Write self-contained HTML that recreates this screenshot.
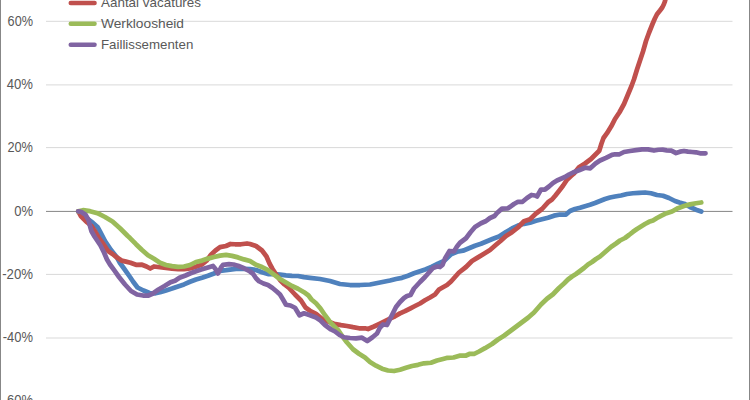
<!DOCTYPE html>
<html><head><meta charset="utf-8"><style>
html,body{margin:0;padding:0;background:#fff;width:750px;height:400px;overflow:hidden}
svg{display:block}
.ax text{font-family:"Liberation Sans",sans-serif;font-size:14px;fill:#595959;text-anchor:end}
.lg text{font-family:"Liberation Sans",sans-serif;font-size:13.5px;fill:#595959}
polyline{fill:none;stroke-width:4.75;stroke-linejoin:round;stroke-linecap:round}
</style></head><body>
<svg width="750" height="400" viewBox="0 0 750 400">
<rect x="0" y="0" width="750" height="400" fill="#fff"/>
<rect x="0" y="0" width="1" height="400" fill="#878787"/>
<rect x="749" y="0" width="1" height="400" fill="#878787"/>
<rect x="46" y="20.8" width="686.5" height="1" fill="#d9d9d9"/><rect x="46" y="84.4" width="686.5" height="1" fill="#d9d9d9"/><rect x="46" y="147.1" width="686.5" height="1" fill="#d9d9d9"/><rect x="46" y="273.9" width="686.5" height="1" fill="#d9d9d9"/><rect x="46" y="337.5" width="686.5" height="1" fill="#d9d9d9"/>
<rect x="46" y="210.9" width="686.5" height="1" fill="#868686"/>
<g class="ax"><text x="33.0" y="25.6" textLength="25.4" lengthAdjust="spacingAndGlyphs">60%</text><text x="33.0" y="89.1" textLength="26.2" lengthAdjust="spacingAndGlyphs">40%</text><text x="33.0" y="152" textLength="25.6" lengthAdjust="spacingAndGlyphs">20%</text><text x="33.0" y="216" textLength="18.8" lengthAdjust="spacingAndGlyphs">0%</text><text x="33.0" y="278.8" textLength="30.8" lengthAdjust="spacingAndGlyphs">-20%</text><text x="33.0" y="341.6" textLength="30.2" lengthAdjust="spacingAndGlyphs">-40%</text><text x="33.0" y="404.8" textLength="30.4" lengthAdjust="spacingAndGlyphs">-60%</text></g>
<polyline points="78.3,211.4 81,214 87,218.5 93,223 97.5,227 100.5,232.5 105,241 111,250 117,257.5 120,263 124,268.5 130,277 133,281.5 137.5,287.5 143.5,290.5 149.5,293 155.5,293.3 160,292.3 166,290.4 172,288.5 178,286.4 184,284.4 190,281.8 196,279.5 202,277.7 208,275.75 214,273.5 220,270.8 226,270.2 232,269.3 238,268.7 244,268.9 250,269.1 256,270 262,272.2 268,274 274,274 280,274.7 286,275.4 292,275.9 298,276 304,277.2 310,277.8 320,279 330,281 340,284 350,285 360,285 370,284.5 380,282.5 387.5,281 390,280.5 396,279 402,277.8 408,275.7 414,273.3 420,271.2 426,269.25 432,266.7 438,263.7 444,261 451,254.3 457,251.75 463,250.7 469,248.3 475,245.75 481,243.8 487,241.3 493,238.8 499,236.5 506,232 512,228.5 518,225.6 524,223.8 530,222.75 536,220.8 542,219.3 548,217.8 554,215.7 560,214.5 566,214.5 570,211 575,209 580,207.8 585,206.2 590,204.8 595,203 600,201 605,199 610,197.5 615,196.5 621,195.5 627,194 633,193.25 639,192.8 645,192.5 651,193.25 657,195 663,195.75 669,198 675,201 679.5,202.5 684,203.7 690,207 696,209.7 701.25,211.5" stroke="#4f81bd"/>
<polyline points="78.3,211.4 81,216.25 87,222.25 91.5,226 94.5,230.5 99,238.2 103.5,244.2 108,251 112.5,254 117,257.6 121.5,260.6 126,261.6 130.5,262.7 136,264.8 142,264.7 146.5,266.5 150.25,268.5 154,266.5 160,267.25 166,268 172,268.75 178,269.2 184,269.2 190,268.5 196,266.75 202,264.5 206.5,260.75 211,254.75 215.5,250.5 220,247.2 226,246 230.5,244 235,244.25 241,244.25 247,243.5 250,244 256,246 262,250.5 266.5,256.5 269.5,263.5 272.5,269 275.5,273.5 280,280 284.5,284.5 289,288 295,294.5 301,300.5 305.5,307.5 310,310.75 316,313.75 322,318.8 328,321.6 334,323.8 341,325.2 347,326 353,327.2 359,328.25 365,328.25 368,329 374,326.5 380,323.6 385,321.1 390,318.7 395,316.3 400,313.4 405,311.2 410,308.6 415,306 420,303.5 425,300.3 430,297.5 435,294.5 439,289.5 443,287.2 447,285 451,281.5 455,277 459,272.5 463,269.3 466,267 472,261 478,257.4 484,253.7 490,250 496,244.8 500.5,241 506,236 512,232.2 518,227.5 524,221.25 530,219.2 536,213.5 542,209 548,202.3 552,199.5 555,196 559,191 563,185.8 567,179.7 571,176 574,173.5 579,167.25 585,163.5 591,159 595.5,154.5 599.25,150.75 601.5,143.5 603.5,138 607,133.2 611.25,126.3 615,119 619.5,112.25 624,104 627.75,95 631.5,86 634,79.25 637,69.5 640,60.5 643,51.5 646,41 649,32.75 652.5,24 654.75,18.75 657,14.25 660,10.5 662.25,7.5 663.75,4.5 664.9,1.5 666,-3" stroke="#c0504d"/>
<polyline points="78.3,211.4 83,210.2 90,211.2 97.5,213.2 105,217 112.5,221.5 120,228.3 127.5,235.8 130,238.1 136,244.2 142,250 148,255.2 154,258.8 160,262.75 166,265 172,266.2 178,266.8 184,266.5 190,265 196,262 202,260.6 208,258.6 214,257 220,255.6 226,254.9 232,255.9 238,257.4 244,259.4 250,261 256,264.75 262,267 268,270.2 274,274.6 280,279 286,282.5 292,286 298,288.75 304,292.2 308.5,295.5 311.5,299.5 316,303.25 320.5,308.5 325,315.25 329.5,321.25 334,326.2 338.5,330.5 342.5,336.5 347,342.5 353,349.25 359,353.75 365,357.5 370,362 376,365.7 382,368.7 388,370.5 394,371 400,369.75 406,367.8 412,366 418,364.8 424,363.3 431,362.75 437,360.5 443,359 447.5,357.8 453.5,357.5 459.5,355.7 465.5,355.7 470,353.75 474.5,353.75 479,351.5 485,348.2 492,344 498,339.5 504,335.75 510,331.25 516,326.75 522,322.25 528,317.75 534,312.5 541,304.5 547,298.75 553,294.25 559,288 564,283.5 568,279.5 572,276.5 576,274 580,271 584,268 588,264.5 592,262 596,259 600,256.5 604,253 608,249.5 612,246.2 616,243.5 620,240.5 625,238 629,235 633,231.8 637,229 641,226.5 645,224 649,221.8 653,220.5 657,218 661,215.8 665,213.8 672,211.5 678,208.2 684,206 690,204.4 696,203.25 701.25,202.5" stroke="#9bbb59"/>
<polyline points="78.3,211.4 81,211.75 85.5,214.75 88.5,220 90,226 91.5,231.25 94.5,236.5 97.5,241 100.5,245.5 104,252.5 107,259.5 110,264.5 114.5,270.7 119,277 125,284.5 131,291 137,294.5 143,295.5 148.5,295.5 152.5,293.8 158.5,289.5 164.5,286 170.5,282.25 175,280.75 179.5,277.75 185.5,275.5 190,273.5 196,271.25 202,269.3 208,267.5 213,266 215.5,269 218,273.5 221,267.5 223,264.8 229,264.2 233.5,264.5 238,265.7 244,268.25 250,271.5 253,273.75 256,278.25 259,281.25 263.5,283.5 268,285 272.5,288 277,291.75 280,294.5 283,299.5 286,304.75 290.5,305.5 295,307.75 299.5,315.25 304,313.3 310,315.25 316,317.5 320.5,320.5 325,325 331,329.5 335,331.5 339.5,335 344,337.25 350,338 356,338.3 362,337.7 367.25,341 372.5,337.25 377,333.5 380,327.5 383,324.5 387,325 390,319 393,313 396,307 400,302 404,298 407,296 410.5,295 414,288.5 420,282 425,277 429,272.5 433,268 437,266.5 440,267 442.5,265 445,258.5 449.5,251 454,251.4 457,246.5 460,242.75 466,238.25 470.5,232.25 475,227 481,223.25 485.5,221.3 490,218 494.5,216 497,213 502,208.6 508,208.3 514,204 518,201.75 522.5,201.75 527,198 531.5,195 535,195.5 537,196.5 541,189.5 545,189.5 549,186.5 553,183 557,180.5 561,178.8 565,177 569,174.5 573,172.5 579,170.3 585,167.7 590.25,168.3 595.5,163.5 600,160.5 606,157.8 612,154.8 615,154.25 619.5,154.25 624,152 630,151 636,150.2 642,149.3 648,149.3 654,150.5 658.5,149.75 662.7,149.7 666.7,150.3 671.3,150.7 676,153 680,151.7 684,151 688,151.7 692,152 696,152.3 700,153.3 705.5,153.3" stroke="#8064a2"/>
<g class="lg">
<line x1="70.7" y1="3" x2="94.6" y2="3" stroke="#c0504d" stroke-width="4.4" stroke-linecap="round"/>
<line x1="70.7" y1="23.7" x2="94.6" y2="23.7" stroke="#9bbb59" stroke-width="4.4" stroke-linecap="round"/>
<line x1="70.7" y1="44.8" x2="94.6" y2="44.8" stroke="#8064a2" stroke-width="4.4" stroke-linecap="round"/>
<text x="101" y="6.6" textLength="100" lengthAdjust="spacingAndGlyphs">Aantal vacatures</text>
<text x="101" y="27.5" textLength="83" lengthAdjust="spacingAndGlyphs">Werkloosheid</text>
<text x="101" y="48.6" textLength="92.3" lengthAdjust="spacingAndGlyphs">Faillissementen</text>
</g>
</svg>
</body></html>
